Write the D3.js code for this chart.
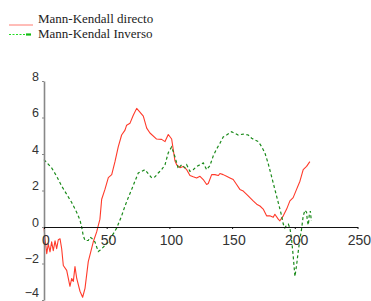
<!DOCTYPE html>
<html>
<head>
<meta charset="utf-8">
<script src="https://cdn.jsdelivr.net/npm/d3@7"></script>
<style>
  body { margin: 0; background: #fff; }
  .tick text { font-family: "Liberation Sans", Arial, sans-serif; fill: #333; }
  .legend text { font-family: "Liberation Serif", "Times New Roman", serif; font-size: 13px; fill: #222; }
</style>
</head>
<body>
<div id="chart"></div>
<script>
// series values: [index, value]
var directo = [
  [0, 0], [0.8, -0.65], [2.2, -1.46], [3.4, -0.92], [4.8, -1.36], [6.1, -0.81], [7.4, -1.3],
  [8.8, -0.76], [10.1, -1.19], [11.4, -0.7], [12.8, -0.65], [14.1, -1.19], [15.4, -2.11],
  [18.1, -2.38], [20.7, -3.25], [22.1, -2.82], [23.4, -2.98], [24.7, -2.17], [26.1, -2.82],
  [28.7, -3.52], [30.8, -3.85], [32.7, -3.36], [35.3, -1.9], [39.3, -0.81], [42, -0.27],
  [44.6, 0.43], [46, 1.52], [48.6, 2.06], [51.3, 2.71], [54, 2.87], [56.6, 3.58], [59.2, 4.39],
  [61.9, 5.04], [64.6, 5.31], [65.9, 5.58], [68.6, 5.69], [71.2, 6.12], [73.9, 6.5], [76.5, 6.29],
  [79.2, 6.07], [81.9, 5.42], [84.5, 5.15], [89.8, 4.82], [93.8, 4.8], [96.5, 4.68], [99.1, 5.07],
  [101.8, 4.82], [103.1, 4.23], [104.4, 3.63], [105.8, 3.41], [108.4, 3.25], [111, 3.32],
  [113.8, 3.14], [116.4, 2.82], [119, 2.75], [121.7, 2.69], [124.4, 2.78], [127, 2.6], [129.7, 2.33],
  [131, 2.38], [133.7, 2.87], [136.3, 2.87], [139, 2.82], [140.3, 2.93], [142.9, 2.87], [145.6, 2.78],
  [148.3, 2.69], [150.9, 2.6], [153.6, 2.33], [156.2, 2.06], [158.9, 1.97], [161.6, 1.79],
  [164.2, 1.61], [166.8, 1.43], [169.6, 1.25], [172.2, 1.15], [174.8, 0.98], [177.5, 0.61],
  [180.1, 0.61], [182.8, 0.53], [184.1, 0.7], [186.8, 0.43], [188.1, 0.34], [190.8, 0.61],
  [193.5, 0.98], [196.1, 1.43], [198.7, 1.61], [201.4, 2.06], [204.1, 2.51], [206.7, 3.14],
  [209.4, 3.32], [212, 3.58]
];

var inverso = [
  [0, 3.69], [6.1, 3.24], [10.1, 2.78], [14.1, 2.24], [18.1, 1.79], [22.1, 1.34], [26.1, 0.8],
  [28.7, 0.38], [30.1, -0.02], [31.3, -0.47], [32.7, -0.74], [35.3, -0.74], [36.7, -0.56],
  [38, -0.61], [40.7, -0.83], [42, -1.1], [43.3, -1.34], [44.6, -1.28], [46, -1.19], [47.3, -1.1],
  [50, -0.92], [52.6, -0.65], [55.2, -0.38], [58, -0.05], [61.9, 0.61], [64.6, 1.15], [67.2, 1.61],
  [69.9, 2.06], [72.5, 2.51], [75.2, 2.96], [77.9, 3.05], [80.5, 3.14], [83.1, 2.93], [85.9, 2.69],
  [88.5, 2.75], [91.1, 2.96], [93.8, 3.14], [96.5, 3.41], [99.1, 4.07], [101.8, 4.39], [104.4, 3.85],
  [107.1, 3.2], [109.8, 3.41], [112.4, 3.24], [113.8, 3.41], [116.4, 3.05], [119, 3.14],
  [121.7, 3.32], [124.4, 3.41], [127, 3.51], [129.7, 3.14], [132.3, 3.36], [135, 3.9], [137.7, 4.28],
  [140.3, 4.59], [142.9, 4.93], [145.6, 5.04], [149.6, 5.22], [152.3, 5.13], [154.9, 5.04],
  [158.9, 5.09], [162.9, 5.04], [165.6, 4.86], [168.2, 4.77], [170.9, 4.68], [173.5, 4.41],
  [176.2, 4.05], [178.8, 3.47], [181.5, 2.76], [184.1, 2.06], [186.8, 1.34], [189.5, 0.61],
  [190.8, 0.16], [192.1, -0.05], [193.5, 0.11], [194.8, 0.16], [196.1, -0.05], [197.4, -0.65],
  [198.7, -1.57], [200.1, -2.71], [201.4, -2.11], [202.7, -1.36], [204.1, -0.65], [205.4, -0.11],
  [206.7, 0.6], [208.1, 0.92], [209.4, 0.81], [210, 0.33], [210.8, 0.11], [211.6, 0.7],
  [212.4, 0.87], [213.2, 0.33]
];

var xTicks = [0, 50, 100, 150, 200, 250];
var yTicks = [-4, -2, 0, 2, 4, 6, 8];
var seriesNames = ["Mann-Kendall directo", "Mann-Kendal Inverso"];

var width = 371, height = 301;

var svg = d3.select("#chart")
  .append("svg")
    .attr("width", width)
    .attr("height", height);

var x = d3.scaleLinear()
  .domain([0, 250])
  .range([44, 357.5]);

var y = d3.scaleLinear()
  .domain([-4, 8])
  .range([300, 81]);

var line = d3.line()
  .x((d) => x(d[0]))
  .y((d) => y(d[1]));

// the two lines
svg.append("path")
  .datum(directo)
  .attr("fill", "none")
  .attr("stroke", "#ff3a2a")
  .attr("stroke-width", 1.1)
  .attr("stroke-linejoin", "round")
  .attr("d", line);

svg.append("path")
  .datum(inverso)
  .attr("fill", "none")
  .attr("stroke", "#1a8a1a")
  .attr("stroke-width", 1.2)
  .attr("stroke-dasharray", "3,2.5")
  .attr("d", line);

// Y axis (gray line, labels sitting on the tick)
var yAxis = svg.append("g")
  .attr("transform", "translate(" + x(0) + ",0)")
  .call(d3.axisLeft(y)
    .tickValues(yTicks)
    .tickSize(2)
    .tickPadding(3)
    .tickSizeOuter(0));

yAxis.select(".domain").attr("stroke", "#888").attr("stroke-width", 1.6);
yAxis.selectAll(".tick line").attr("stroke", "#888");
yAxis.selectAll(".tick text")
  .attr("font-size", 12.5)
  // the lowest label would run off the bottom edge, lift it a little
  .attr("dy", (d) => d === -4 ? "-0.3em" : "-0.05em");

// X axis along zero
var xAxis = svg.append("g")
  .attr("transform", "translate(0," + y(0) + ")")
  .call(d3.axisBottom(x)
    .tickValues(xTicks)
    .tickSize(2)
    .tickPadding(6)
    .tickSizeOuter(0));

xAxis.select(".domain").attr("stroke", "#111").attr("stroke-width", 1);
xAxis.selectAll(".tick line").attr("stroke", "#111");
xAxis.selectAll(".tick text")
  .attr("font-size", 14)
  .attr("dx", "0.1em");

// legend
var legend = svg.append("g").attr("class", "legend");

legend.append("line")
  .attr("x1", 9).attr("x2", 33)
  .attr("y1", 25).attr("y2", 25)
  .attr("stroke", "#ff7a70")
  .attr("stroke-width", 1);

legend.append("line")
  .attr("x1", 9).attr("x2", 26)
  .attr("y1", 34.5).attr("y2", 34.5)
  .attr("stroke", "#22dd22")
  .attr("stroke-width", 1)
  .attr("stroke-dasharray", "2,1.5");

legend.append("line")
  .attr("x1", 26).attr("x2", 31)
  .attr("y1", 34.5).attr("y2", 34.5)
  .attr("stroke", "#11bb11")
  .attr("stroke-width", 2.2);

legend.selectAll("text")
  .data(seriesNames)
  .enter()
  .append("text")
    .attr("x", 38)
    .attr("y", (d, i) => 23 + i * 15)
    .text((d) => d);
</script>
</body>
</html>
